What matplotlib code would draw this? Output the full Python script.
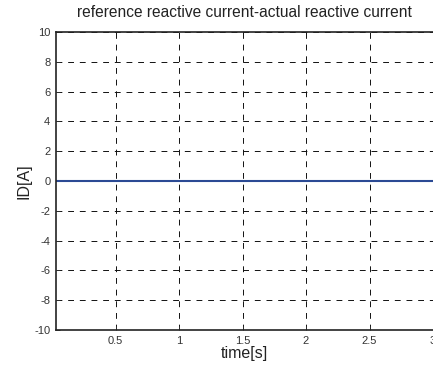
import numpy as np
import matplotlib
matplotlib.use("Agg")
import matplotlib.pyplot as plt

plt.rcParams['font.family'] = ['Liberation Sans', 'DejaVu Sans']
plt.rcParams['axes.unicode_minus'] = False

# time [s] and reference-actual reactive current difference [A]
t = [0.0, 0.5, 1.0, 1.5, 2.0, 2.5, 3.0]
id_err = [0.0, 0.0, 0.0, 0.0, 0.0, 0.0, 0.0]
xticks = [0.5, 1, 1.5, 2, 2.5, 3]
yticks = [-10, -8, -6, -4, -2, 0, 2, 4, 6, 8, 10]

fig = plt.figure(figsize=(4.33, 3.65), dpi=100)
ax = fig.add_axes([0.129, 0.096, 0.871, 0.816])

ax.plot(t, id_err, color='#2b4a94', linewidth=1.5)

ax.set_xlim(0.03, 3.0)
ax.set_ylim(-10, 10)
ax.set_xticks(xticks)
ax.set_xticklabels(['0.5', '1', '1.5', '2', '2.5', '3'])
ax.set_yticks(yticks)
ax.tick_params(labelsize=8, length=3, width=0.6, direction='in', colors='#333333', pad=4)
ax.grid(True, color='#111111', linestyle=(0, (6, 6)), linewidth=0.7)

for s in ['left', 'bottom', 'top']:
    ax.spines[s].set_linewidth(1.2)
    ax.spines[s].set_color('#222222')
ax.spines['right'].set_visible(False)

ax.set_title('reference reactive current-actual reactive current', fontsize=11.2, pad=11, color='#222222')
ax.set_xlabel('time[s]', fontsize=11.5, labelpad=0, color='#222222')
ax.set_ylabel('ID[A]', fontsize=11.5, labelpad=2, color='#222222')

fig.savefig('out.png', dpi=100)
